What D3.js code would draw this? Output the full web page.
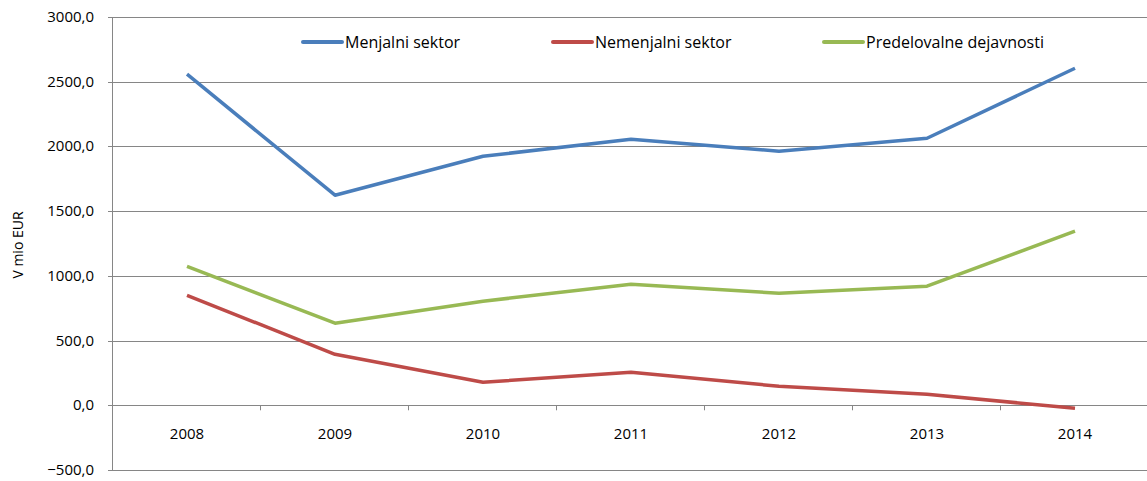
<!DOCTYPE html>
<html>
<head>
<meta charset="utf-8">
<script src="https://cdn.jsdelivr.net/npm/d3@7"></script>
<style>
body { margin: 0; background: #fff; }
text { font-family: "Open Sans", "Liberation Sans", sans-serif; fill: #000; }
</style>
</head>
<body>
<svg id="chart" width="1147" height="481"></svg>
<script>
var years = ["2008", "2009", "2010", "2011", "2012", "2013", "2014"];
var menjalni = [2558, 1623, 1924, 2056, 1963, 2063, 2604];
var nemenjalni = [850, 394, 178, 255, 147, 85, -23];
var predelovalne = [1074, 634, 804, 935, 866, 920, 1345];
var seriesNames = ["Menjalni sektor", "Nemenjalni sektor", "Predelovalne dejavnosti"];
var yTicks = [-500, 0, 500, 1000, 1500, 2000, 2500, 3000];

var colors = ["#4a7ebb", "#be4b48", "#98b954"];
var series = [menjalni, nemenjalni, predelovalne];

var margin = { top: 17, left: 113, right: 0, bottom: 11 };
var width = 1036;
var height = 481 - margin.top - margin.bottom;

var svg = d3.select("#chart");
var g = svg.append("g")
    .attr("transform", "translate(" + margin.left + ", " + margin.top + ")");

var x = d3.scaleBand().domain(years).range([0, width]);
var y = d3.scaleLinear().domain([-500, 3000]).range([height, 0]);

// gridlines
g.append("g")
    .selectAll("line")
    .data(yTicks)
    .enter().append("line")
    .attr("x1", -5)
    .attr("x2", 1147 - margin.left)
    .attr("y1", function(d) { return Math.round(y(d)) + 0.5; })
    .attr("y2", function(d) { return Math.round(y(d)) + 0.5; })
    .attr("stroke", "#868686")
    .attr("stroke-width", 1);

// y axis line
g.append("line")
    .attr("x1", -0.5).attr("x2", -0.5)
    .attr("y1", y(3000)).attr("y2", y(-500) + 1)
    .attr("stroke", "#868686");

// y labels
g.append("g")
    .selectAll("text")
    .data(yTicks)
    .enter().append("text")
    .attr("x", -19)
    .attr("y", function(d) { return y(d) + 5; })
    .attr("text-anchor", "end")
    .style("font-size", "15px")
    .text(function(d) { return d3.format(".1f")(d).replace(".", ","); });

// category ticks on zero line
g.append("g")
    .selectAll("line")
    .data(years.slice(1))
    .enter().append("line")
    .attr("x1", function(d) { return Math.round(x(d)) - 0.5; })
    .attr("x2", function(d) { return Math.round(x(d)) - 0.5; })
    .attr("y1", y(0))
    .attr("y2", y(0) + 5)
    .attr("stroke", "#868686");

// x labels
g.append("g")
    .selectAll("text")
    .data(years)
    .enter().append("text")
    .attr("x", function(d) { return x(d) + x.bandwidth() / 2; })
    .attr("y", y(0) + 34)
    .attr("text-anchor", "middle")
    .style("font-size", "15px")
    .text(function(d) { return d; });

// axis title
svg.append("text")
    .attr("transform", "translate(23, 245) rotate(-90)")
    .attr("text-anchor", "middle")
    .style("font-size", "14px")
    .text("V mio EUR");

// lines
var line = d3.line()
    .x(function(d, i) { return x(years[i]) + x.bandwidth() / 2; })
    .y(function(d) { return y(d); });

g.append("g")
    .selectAll("path")
    .data(series)
    .enter().append("path")
    .attr("d", line)
    .attr("fill", "none")
    .attr("stroke", function(d, i) { return colors[i]; })
    .attr("stroke-width", 3.5)
    .attr("stroke-linejoin", "round");

// legend
var legendX = [303, 553, 824];
var legend = svg.append("g")
    .selectAll("g")
    .data(seriesNames)
    .enter().append("g")
    .attr("transform", function(d, i) { return "translate(" + legendX[i] + ", 42)"; });

legend.append("line")
    .attr("x1", 0).attr("x2", 39)
    .attr("y1", 0).attr("y2", 0)
    .attr("stroke", function(d, i) { return colors[i]; })
    .attr("stroke-width", 4)
    .attr("stroke-linecap", "round");

legend.append("text")
    .attr("x", 42)
    .attr("y", 5.5)
    .style("font-size", "16px")
    .text(function(d) { return d; });
</script>
</body>
</html>
